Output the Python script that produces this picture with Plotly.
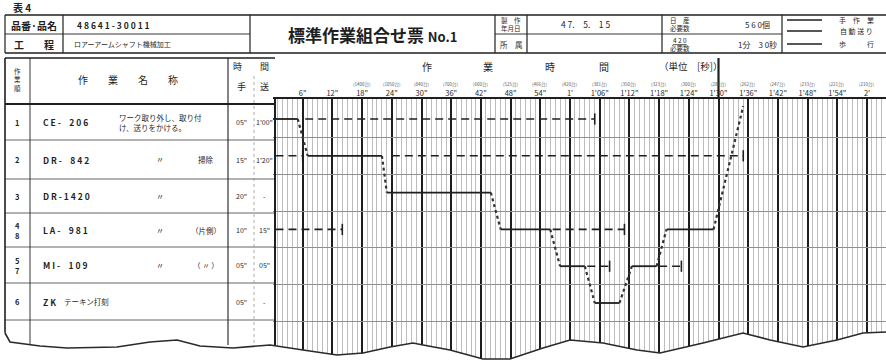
"""標準作業組合せ票 (standard work combination sheet) redrawn with Plotly."""

import plotly.graph_objects as go

# ---------------------------------------------------------------------------
# Data
# ---------------------------------------------------------------------------
TICK_SEC = [6, 12, 18, 24, 30, 36, 42, 48, 54, 60, 66, 72, 78, 84, 90, 96, 102, 108, 114, 120]
TICK_LABELS = ['6"', '12"', '18"', '24"', '30"', '36"', '42"', '48"', '54"', "1'",
               "1'06\"", "1'12\"", "1'18\"", "1'24\"", "1'30\"", "1'36\"", "1'42\"",
               "1'48\"", "1'54\"", "2'"]
CAPACITY_SEC = [18, 24, 30, 36, 42, 48, 54, 60, 66, 72, 78, 84, 90, 96, 102, 108, 114, 120]
CAPACITY_LABELS = ["(1400台)", "(1050台)", "(840台)", "(700台)", "(600台)", "(525台)",
                   "(466台)", "(420台)", "(381台)", "(350台)", "(323台)", "(300台)",
                   "(280台)", "(262台)", "(247台)", "(233台)", "(221台)", "(210台)"]
TAKT_SEC = 90

STEP_NO = ["1", "2", "3", "4<br>8", "5<br>7", "6"]
MACHINE = ["C E -　2 0 6", "D R -　8 4 2", "D R - 1 4 2 0", "L A -　9 8 1", "M I -　1 0 9", "Z K"]
WORK_NAME = ["ワーク取り外し、取り付<br>け、送りをかける。", "〃", "〃", "〃", "〃", "テーキン打刻"]
WORK_NOTE = ["", "掃除", "", "（片側）", "（ 〃 ）", ""]
HAND_TIME = ['05"', '15"', '20"', '10"', '05"', '05"']
AUTO_TIME = ["1'00\"", "1'20\"", "-", '15"', '05"', "-"]

# work sequence (hand work), seconds
HAND_ROW = [1, 2, 3, 4, 5, 6, 5, 4]
HAND_START = [0, 7, 23, 46, 58, 65, 72.5, 79.5]
HAND_END = [5, 22, 44, 56, 63, 70, 77.5, 89]

# automatic feed, seconds
AUTO_ROW = [1, 2, 2, 4, 4, 5, 5]
AUTO_START = [6.5, 0.5, 24, 0.5, 56.5, 63.5, 78]
AUTO_END = [65, 6, 95, 14, 71, 68, 82.5]

# walk back to the first machine
RETURN_SEC = [89, 95]
RETURN_ROW = [4, 0.65]

# ---------------------------------------------------------------------------
# Page geometry (pixels)
# ---------------------------------------------------------------------------
W, H = 886, 362
FONT = "Noto Sans CJK JP"
INK = "#1f1f1f"
T0_PX = 273
PX_PER_SEC = 4.95
CHART_TOP = 98
ROW1_PX = 119
ROW_PX = 36.8

ROW_LINES = [104, 140, 179, 213, 247, 283, 320]

# torn bottom edge of the scan
EDGE_X = [0, 5, 10, 40, 67, 117, 150, 177, 200, 233, 270, 303, 337, 363, 390, 413, 423,
          450, 483, 510, 543, 570, 603, 637, 660, 703, 743, 770, 803, 837, 863, 886]
EDGE_Y = [330, 333, 342, 346, 348, 347, 342, 340, 346, 348, 345, 350, 355, 353, 347, 343,
          345, 350, 359, 359, 348, 340, 343, 350, 353, 343, 333, 340, 347, 340, 333, 332]

fig = go.Figure()


def txt(x, y, s, size=9, xanchor="center", xref="x", color=INK, align="center"):
    fig.add_annotation(x=x, y=y, xref=xref, yref="y", text=s, showarrow=False,
                       xanchor=xanchor, yanchor="middle", align=align,
                       font=dict(family=FONT, size=size, color=color))


def hline(y, x0, x1, width=1.0, color=INK, dash=None):
    fig.add_shape(type="line", x0=x0, x1=x1, y0=y, y1=y, xref="x", yref="y",
                  line=dict(color=color, width=width, dash=dash), layer="above")


def vline(x, y0, y1, width=1.0, color=INK, dash=None):
    fig.add_shape(type="line", x0=x, x1=x, y0=y0, y1=y1, xref="x", yref="y",
                  line=dict(color=color, width=width, dash=dash), layer="above")


# ---------------------------------------------------------------------------
# Work elements on the time chart
# ---------------------------------------------------------------------------
hx, hy = [], []
for r, s, e in zip(HAND_ROW, HAND_START, HAND_END):
    hx += [s, e, None]
    hy += [r, r, None]
fig.add_trace(go.Scatter(x=hx, y=hy, mode="lines", xaxis="x2", yaxis="y2",
                         line=dict(color=INK, width=1.8), hoverinfo="skip"))

ax, ay = [], []
for r, s, e in zip(AUTO_ROW, AUTO_START, AUTO_END):
    ax += [s, e, None]
    ay += [r, r, None]
fig.add_trace(go.Scatter(x=ax, y=ay, mode="lines", xaxis="x2", yaxis="y2",
                         line=dict(color=INK, width=1.6, dash="8px,5px"), hoverinfo="skip"))
fig.add_trace(go.Scatter(x=AUTO_END, y=AUTO_ROW, mode="markers", xaxis="x2", yaxis="y2",
                         marker=dict(symbol="line-ns", size=8, line=dict(color=INK, width=1.6)),
                         hoverinfo="skip"))

wx, wy = [], []
for i in range(len(HAND_ROW) - 1):
    wx += [HAND_END[i], HAND_START[i + 1], None]
    wy += [HAND_ROW[i], HAND_ROW[i + 1], None]
wx += RETURN_SEC
wy += RETURN_ROW
fig.add_trace(go.Scatter(x=wx, y=wy, mode="lines", xaxis="x2", yaxis="y2",
                         line=dict(color="#333333", width=2.2, dash="dot"), hoverinfo="skip"))

# ---------------------------------------------------------------------------
# Header block
# ---------------------------------------------------------------------------
txt(22, 7, "<b>表 4</b>", size=10)

HB_TOP, HB_MID, HB_BOT = 15, 34, 53
hline(HB_TOP, 5, W, 1.6)
hline(HB_BOT, 5, W, 1.6)
hline(HB_MID, 5, 250, 0.9)
hline(HB_MID, 495, 782, 0.9)
for x in [5, 63, 250, 495, 527, 662, 782]:
    vline(x, HB_TOP, HB_BOT, 1.2)

txt(34, 25, "<b>品番·品名</b>", size=10)
txt(75, 25, "<b>4 8 6 4 1 - 3 0 0 1 1</b>", size=8.5, xanchor="left")
txt(34, 44, "<b>工　　程</b>", size=10)
txt(72, 44, "ロアーアームシャフト機械加工", size=7, xanchor="left")
txt(372, 34, "<b>標準作業組合せ票 <span style='font-size:13px'>No.1</span></b>", size=17)

txt(511, 24, "製　作<br>年月日", size=6.5)
txt(511, 44, "所　属", size=7.5)
txt(585, 24, "4 7.　5.　1 5", size=8.5)
txt(680, 24, "日　産<br>必要数", size=6.5)
txt(680, 44, "<u>4 2 0</u><br>必要数", size=6.5)
txt(757, 24, "5 6 0個", size=8)
txt(757, 44, "1分　3 0秒", size=8)

LEGEND_Y = [20, 31, 44]
LEGEND_TEXT = ["手　作　業", "自 動 送 り", "歩　　　行"]
for y, s in zip(LEGEND_Y, LEGEND_TEXT):
    hline(y, 787, 822, 1.3)
    txt(856, y, s, size=7)

# ---------------------------------------------------------------------------
# Main table (left part)
# ---------------------------------------------------------------------------
TB_TOP = 58
hline(TB_TOP, 5, 275, 1.6)
hline(ROW_LINES[0], 5, 275, 2.0)
for y in ROW_LINES[1:]:
    hline(y, 5, 275, 0.9, color="#555555")
vline(5, TB_TOP, 345, 1.6)
vline(30, TB_TOP, 345, 0.9)
vline(228, TB_TOP, 345, 1.1)
vline(254, 76, 345, 0.7, color="#888888", dash="dot")

txt(17, 79, "作<br>業<br>順", size=6.5)
txt(128, 79, "作　　業　　名　　称", size=10)
txt(251, 66, "時　　間", size=9)
txt(241, 86, "手", size=9)
txt(264, 86, "送", size=9)

for i in range(len(STEP_NO)):
    yc = (ROW_LINES[i] + ROW_LINES[i + 1]) / 2
    txt(17, yc, "<b>" + STEP_NO[i] + "</b>", size=7.5)
    txt(41, yc, "<b>" + MACHINE[i] + "</b>", size=8.5, xanchor="left")
    if WORK_NAME[i] == "〃":
        txt(160, yc, WORK_NAME[i], size=8)
    elif i == 0:
        txt(117, yc, WORK_NAME[i], size=7.5, xanchor="left", align="left")
    else:
        txt(62, yc, WORK_NAME[i], size=7.5, xanchor="left")
    if WORK_NOTE[i]:
        txt(206, yc, WORK_NOTE[i], size=7.5)
    txt(241, yc, HAND_TIME[i], size=7)
    txt(264, yc, AUTO_TIME[i], size=7)

# ---------------------------------------------------------------------------
# Chart frame and headings
# ---------------------------------------------------------------------------
hline(CHART_TOP, T0_PX, W, 2.0)
vline(275, CHART_TOP, 345, 2.0)
fig.add_shape(type="line", xref="x2", yref="y", x0=TAKT_SEC, x1=TAKT_SEC, y0=58, y1=CHART_TOP,
              line=dict(color=INK, width=2.2), layer="above")

for x, s in zip([427, 488, 550, 604], ["作", "業", "時", "間"]):
    txt(x, 66, s, size=10)
txt(690, 66, "（単位　[秒]）", size=9.5)

for sec, lab in zip(CAPACITY_SEC, CAPACITY_LABELS):
    txt(sec, 84, lab, size=4.5, xref="x2", color="#555555")

# torn edge: white mask then outline
path = "M 0,%d " % H + " ".join("L %g,%g" % (x, y) for x, y in zip(EDGE_X, EDGE_Y)) + " L %d,%d Z" % (W, H)
fig.add_shape(type="path", path=path, xref="x", yref="y", fillcolor="white",
              line=dict(width=0), layer="above")
edge = "M %g,%g " % (EDGE_X[1], EDGE_Y[1]) + " ".join("L %g,%g" % (x, y) for x, y in zip(EDGE_X[2:], EDGE_Y[2:]))
fig.add_shape(type="path", path=edge, xref="x", yref="y",
              line=dict(color="#2a2a2a", width=1.6), layer="above")

# ---------------------------------------------------------------------------
# Layout
# ---------------------------------------------------------------------------
r_top = 1 + (CHART_TOP - ROW1_PX) / ROW_PX
r_bot = 1 + (H - ROW1_PX) / ROW_PX

fig.update_layout(
    width=W, height=H,
    margin=dict(l=0, r=0, t=0, b=0),
    paper_bgcolor="white",
    plot_bgcolor="rgba(0,0,0,0)",
    showlegend=False,
    xaxis=dict(range=[0, W], domain=[0, 1], visible=False),
    yaxis=dict(range=[H, 0], domain=[0, 1], visible=False),
    xaxis2=dict(
        domain=[T0_PX / W, 1], range=[0, (W - T0_PX) / PX_PER_SEC], anchor="y2",
        side="top", tickmode="array", tickvals=TICK_SEC, ticktext=TICK_LABELS,
        tickfont=dict(family=FONT, size=7.5, color=INK), ticks="",
        showgrid=True, gridcolor="#1e1e1e", gridwidth=1.7, zeroline=False, showline=False,
        minor=dict(tickmode="linear", tick0=0, dtick=1, showgrid=True,
                   gridcolor="#bdbdbd", gridwidth=0.7),
    ),
    yaxis2=dict(
        domain=[0, (H - CHART_TOP) / H], range=[r_bot, r_top], anchor="x2",
        tickmode="array", tickvals=[1.5, 2.5, 3.5, 4.5, 5.5, 6.5], showticklabels=False,
        ticks="", showgrid=True, gridcolor="#8f8f8f", gridwidth=0.9, zeroline=False,
    ),
)

# the page body has a default 8px margin; drop it so the sheet fills the window
fig.write_html("out.html", config={"displayModeBar": False},
               post_script="document.body.style.margin='0';")
